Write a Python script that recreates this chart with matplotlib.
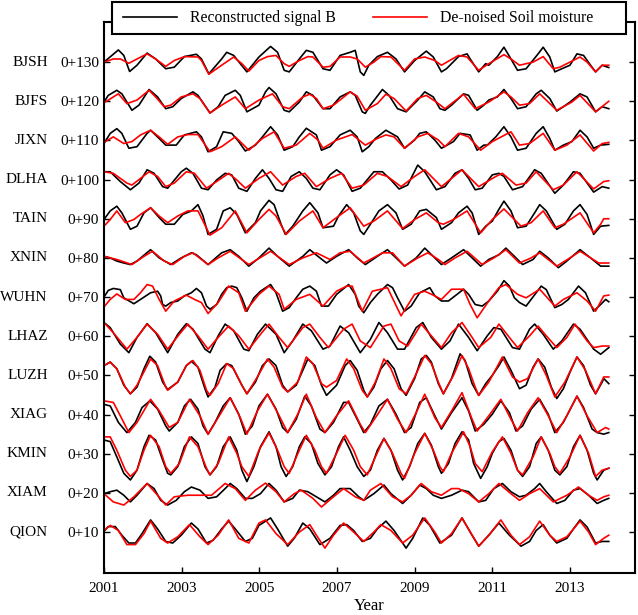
import numpy as np
import matplotlib.pyplot as plt
import matplotlib.transforms as mtransforms
from matplotlib.lines import Line2D
from matplotlib.patches import Rectangle

plt.rcParams['font.family'] = ['Liberation Serif', 'DejaVu Serif']

# stations from top to bottom, each shifted by its offset
stations = ['BJSH', 'BJFS', 'JIXN', 'DLHA', 'TAIN', 'XNIN', 'WUHN',
            'LHAZ', 'LUZH', 'XIAG', 'KMIN', 'XIAM', 'QION']
offsets = [130, 120, 110, 100, 90, 80, 70, 60, 50, 40, 30, 20, 10]
offset_labels = ['0+130', '0+120', '0+110', '0+100', '0+90', '0+80', '0+70',
                 '0+60', '0+50', '0+40', '0+30', '0+20', '0+10']
year_ticks = [2001, 2003, 2005, 2007, 2009, 2011, 2013]
start_year = 2001

# (years since 2001, value)
bjsh_black = [(0.00, 0.0), (0.37, 3.1), (0.51, 1.7), (0.66, -2.4), (0.85, -0.8), (1.11, 2.3), (1.33, 0.8),
              (1.59, -1.7), (1.81, -1.3), (2.07, 1.4), (2.38, 2.0), (2.51, 0.8), (2.70, -3.0), (3.03, 0.8),
              (3.16, 2.5), (3.34, 1.7), (3.68, -2.5), (3.99, 1.3), (4.29, 4.0), (4.47, 2.5), (4.64, -2.1),
              (4.77, -2.5), (5.03, 0.8), (5.21, 3.0), (5.38, 2.5), (5.64, -1.7), (5.82, -2.1), (6.08, 1.7),
              (6.34, 2.5), (6.47, 3.0), (6.60, -2.5), (6.69, -3.4), (6.82, -0.8), (7.04, 1.4), (7.30, 2.5),
              (7.52, 0.8), (7.74, -2.5), (8.00, 0.4), (8.30, 2.8), (8.48, 1.3), (8.69, -2.5), (8.82, -1.7),
              (9.13, 1.4), (9.35, 2.1), (9.43, 0.8), (9.65, -2.5), (9.83, -0.4), (9.91, -0.8), (10.13, 1.4),
              (10.30, 3.8), (10.48, 0.8), (10.65, -2.1), (10.87, -1.7), (11.18, 2.1), (11.31, 3.8),
              (11.48, 1.3), (11.61, -2.5), (11.79, -1.7), (12.00, -0.8), (12.18, 2.1), (12.35, 1.7),
              (12.53, -0.8), (12.66, -2.5), (12.83, -0.8), (13.00, -1.4)]
bjsh_red = [(0.00, 0.0), (0.24, 0.8), (0.42, 0.8), (0.64, -0.3), (0.85, 0.8), (1.11, 2.1), (1.33, 0.8),
            (1.59, -1.1), (1.81, 0.4), (2.07, 1.4), (2.42, 1.3), (2.51, 0.4), (2.70, -3.1), (3.03, -0.8),
            (3.34, 1.3), (3.55, -0.4), (3.73, -2.3), (3.99, 0.4), (4.21, 1.4), (4.43, 1.7), (4.64, -0.4),
            (4.77, -1.1), (5.03, 0.4), (5.25, 1.4), (5.38, 1.3), (5.64, -1.3), (5.82, -1.1), (6.08, 1.3),
            (6.34, 1.3), (6.52, 0.8), (6.73, -1.3), (6.95, 0.0), (7.13, 1.4), (7.39, 1.3), (7.74, -2.1),
            (8.00, 0.8), (8.26, 1.3), (8.52, 0.4), (8.69, -0.8), (9.13, 1.7), (9.35, 1.3), (9.65, -2.1),
            (9.91, -0.4), (10.30, 1.9), (10.48, 0.8), (10.70, -0.8), (11.05, 0.0), (11.31, 1.4),
            (11.57, -1.7), (11.74, -1.3), (11.92, -0.4), (12.26, 1.3), (12.44, 0.0), (12.66, -2.5),
            (12.83, -0.8), (13.00, -0.8)]

bjfs_black = [(0.00, -0.2), (0.11, 1.5), (0.33, 2.8), (0.46, 1.9), (0.72, -2.3), (0.90, -1.0), (1.16, 3.0),
              (1.38, 1.1), (1.59, -1.9), (1.77, -1.4), (1.99, 0.7), (2.29, 2.4), (2.42, 1.5), (2.73, -3.0),
              (2.94, -1.4), (3.12, 1.5), (3.38, 2.8), (3.51, 1.5), (3.68, -2.7), (3.99, -1.0), (4.16, 2.4),
              (4.25, 3.5), (4.43, 1.9), (4.64, -2.3), (4.77, -2.7), (5.03, -0.2), (5.21, 2.4), (5.38, 1.5),
              (5.64, -1.9), (5.82, -1.9), (6.08, 1.1), (6.34, 2.4), (6.47, 1.5), (6.65, -2.7), (6.73, -3.1),
              (6.86, -1.0), (7.17, 3.0), (7.34, 1.5), (7.56, -1.9), (7.78, -2.7), (8.08, 0.3), (8.26, 2.4),
              (8.48, 1.1), (8.65, -1.9), (8.78, -2.3), (8.95, -1.0), (9.26, 1.9), (9.39, 1.5), (9.61, -2.3),
              (9.78, -1.0), (9.91, 0.3), (10.13, 1.1), (10.30, 3.0), (10.48, 0.7), (10.65, -1.9),
              (10.87, -1.4), (11.13, 1.9), (11.26, 2.8), (11.48, 0.7), (11.66, -2.5), (11.83, -1.4),
              (12.00, -0.2), (12.26, 1.9), (12.44, 1.1), (12.66, -2.7), (12.83, -1.4), (13.00, -1.9)]
bjfs_red = [(0.00, -0.4), (0.24, 1.1), (0.37, 1.9), (0.59, -0.6), (0.85, 0.3), (1.16, 2.8), (1.33, 1.1),
            (1.55, -1.4), (1.72, -1.0), (1.99, 1.1), (2.29, 1.9), (2.47, 0.7), (2.73, -3.0), (3.03, -1.0),
            (3.38, 1.1), (3.64, -1.9), (3.99, 0.3), (4.34, 1.9), (4.60, -1.4), (4.77, -1.9), (5.12, 1.1),
            (5.30, 1.8), (5.47, 0.7), (5.64, -1.9), (5.91, -1.0), (6.34, 2.4), (6.52, 1.3), (6.73, -2.3),
            (7.04, -0.6), (7.26, 1.8), (7.47, 0.7), (7.78, -2.5), (8.08, 0.7), (8.30, 1.5), (8.56, -0.2),
            (8.78, -1.9), (9.26, 1.8), (9.56, -1.9), (9.91, -0.2), (10.30, 2.4), (10.48, 1.1), (10.70, -1.0),
            (10.96, -0.6), (11.22, 1.9), (11.66, -2.3), (12.05, -0.2), (12.26, 1.5), (12.66, -2.7),
            (13.00, 0.0)]

jixn_black = [(0.00, -0.8), (0.16, 1.8), (0.33, 3.0), (0.46, 1.8), (0.64, -2.0), (0.85, -1.6), (1.11, 1.8),
              (1.20, 2.6), (1.42, 0.5), (1.59, -1.2), (1.86, -1.2), (2.07, 1.4), (2.38, 2.2), (2.51, 0.9),
              (2.68, -2.9), (2.90, -1.6), (3.07, 2.2), (3.29, 1.8), (3.47, -0.3), (3.64, -2.7), (3.90, -1.2),
              (4.08, 0.9), (4.29, 3.5), (4.47, 1.4), (4.64, -2.5), (4.86, -1.6), (5.03, 0.9), (5.21, 3.1),
              (5.47, 1.4), (5.60, -2.5), (5.82, -1.6), (6.08, 1.4), (6.34, 2.6), (6.52, 0.9), (6.65, -2.9),
              (6.82, -1.6), (6.99, 0.5), (7.26, 2.6), (7.56, 0.9), (7.74, -2.0), (8.00, 0.1), (8.13, 1.8),
              (8.30, 2.2), (8.52, 0.1), (8.69, -2.0), (9.00, -0.3), (9.17, 1.8), (9.43, 1.4), (9.61, -2.5),
              (9.78, -1.2), (9.87, -1.2), (10.09, 0.9), (10.30, 3.5), (10.48, 0.9), (10.65, -2.5),
              (10.87, -2.0), (11.13, 1.8), (11.31, 3.5), (11.48, 0.5), (11.61, -2.5), (11.83, -1.2),
              (12.05, -0.3), (12.26, 2.6), (12.44, 0.9), (12.61, -2.0), (12.79, -1.2), (13.00, -1.0)]
jixn_red = [(0.00, -0.5), (0.24, 0.9), (0.51, -0.8), (0.72, -0.3), (0.94, 1.4), (1.20, 2.6), (1.42, 0.9),
            (1.64, -1.0), (1.90, 0.9), (2.16, 1.5), (2.42, 1.5), (2.73, -2.9), (3.03, -1.6), (3.38, 0.9),
            (3.60, -1.2), (3.73, -2.5), (4.08, 0.5), (4.38, 2.2), (4.64, -2.0), (4.95, -1.2), (5.30, 1.8),
            (5.51, 0.1), (5.64, -2.0), (5.99, 0.1), (6.39, 1.5), (6.73, -1.2), (7.04, 0.5), (7.26, 1.4),
            (7.47, 0.9), (7.74, -2.0), (8.08, 0.9), (8.34, 1.8), (8.61, 0.1), (8.78, -1.6), (9.13, 1.8),
            (9.39, 0.9), (9.70, -2.5), (10.00, -0.3), (10.48, 2.2), (10.70, -1.2), (10.96, -0.8),
            (11.31, 1.8), (11.61, -2.5), (11.92, -1.2), (12.26, 1.4), (12.61, -2.7), (12.83, -0.8),
            (13.00, -0.5)]

dlha_black = [(0.00, 2.0), (0.16, 2.0), (0.42, -0.5), (0.68, -2.6), (0.90, -0.9), (1.11, 2.5), (1.29, 1.6),
              (1.51, -1.8), (1.64, -2.2), (1.99, 2.0), (2.12, 2.9), (2.29, 1.6), (2.51, -2.2), (2.68, -2.6),
              (2.90, -0.1), (3.12, 1.6), (3.29, 1.2), (3.47, -2.2), (3.68, -3.0), (3.90, 0.3), (4.08, 2.5),
              (4.25, 0.3), (4.43, -2.6), (4.60, -3.0), (4.82, 0.8), (5.03, 2.0), (5.21, 0.3), (5.38, -2.2),
              (5.56, -2.6), (5.82, 1.2), (5.99, 2.5), (6.17, 1.2), (6.39, -3.0), (6.60, -2.2), (6.95, 2.0),
              (7.17, 2.0), (7.39, -0.1), (7.60, -2.4), (7.82, -1.4), (8.08, 3.7), (8.26, 2.0), (8.56, -2.6),
              (8.78, -1.8), (9.04, 1.6), (9.22, 2.5), (9.39, 0.3), (9.56, -2.6), (9.74, -2.2), (10.00, 1.2),
              (10.17, 1.6), (10.30, 0.8), (10.52, -2.6), (10.78, -1.8), (11.09, 2.5), (11.26, 1.6),
              (11.61, -3.5), (11.83, -1.4), (12.09, 2.0), (12.26, 1.6), (12.61, -3.2), (12.83, -1.8),
              (13.00, -2.2)]
dlha_red = [(0.00, 2.0), (0.24, 1.6), (0.59, -0.9), (0.72, -1.4), (0.94, 0.3), (1.16, 2.0), (1.38, 0.8),
            (1.59, -1.8), (1.81, -0.9), (2.12, 2.0), (2.33, 1.6), (2.64, -2.2), (2.90, -0.5), (3.21, 1.6),
            (3.42, -0.1), (3.64, -2.2), (3.99, 0.3), (4.29, 2.0), (4.60, -1.4), (4.95, 0.8), (5.17, 1.6),
            (5.47, -1.8), (5.82, 0.3), (6.12, 1.6), (6.39, -2.2), (6.69, -1.4), (7.04, 1.6), (7.30, 0.8),
            (7.65, -1.8), (8.00, 0.8), (8.26, 2.5), (8.52, -0.1), (8.69, -1.8), (8.95, 0.3), (9.22, 2.5),
            (9.48, -0.1), (9.65, -1.8), (10.09, 0.8), (10.26, 1.6), (10.61, -1.4), (10.87, -0.9),
            (11.13, 2.0), (11.57, -2.6), (11.83, -1.4), (12.18, 2.0), (12.61, -2.4), (12.87, -0.5),
            (13.00, -0.3)]

tain_black = [(0.00, -0.2), (0.16, 2.0), (0.33, 3.2), (0.46, 1.5), (0.68, -2.7), (0.85, -1.9), (1.03, 1.5),
              (1.20, 2.8), (1.42, 0.3), (1.59, -1.4), (1.81, -1.4), (2.03, 1.1), (2.25, 2.0), (2.42, 3.6),
              (2.55, 0.7), (2.68, -4.0), (2.90, -2.7), (3.07, 2.0), (3.25, 2.8), (3.42, 1.1), (3.64, -3.6),
              (3.90, -1.0), (4.03, 2.0), (4.25, 4.7), (4.38, 3.6), (4.56, -1.4), (4.67, -4.0), (4.86, -1.9),
              (5.12, 2.0), (5.30, 4.1), (5.51, 1.5), (5.64, -2.3), (5.91, -1.9), (6.04, 0.7), (6.25, 3.6),
              (6.43, 1.5), (6.60, -3.1), (6.69, -4.0), (6.86, -1.4), (7.08, 2.0), (7.30, 3.6), (7.52, 1.5),
              (7.69, -2.7), (7.91, -1.4), (8.13, 2.0), (8.30, 2.4), (8.56, 0.3), (8.69, -2.7), (8.95, -1.0),
              (9.13, 1.5), (9.35, 3.2), (9.48, 1.5), (9.65, -4.0), (9.83, -1.9), (10.00, -0.6), (10.17, 2.4),
              (10.30, 4.5), (10.48, 2.0), (10.65, -2.3), (10.87, -1.9), (11.09, 1.5), (11.22, 3.6),
              (11.39, 2.0), (11.66, -2.7), (11.87, -1.4), (12.09, 2.0), (12.26, 3.6), (12.44, 1.1),
              (12.61, -4.0), (12.79, -1.9), (13.00, -1.7)]
tain_red = [(0.00, -1.9), (0.16, -0.2), (0.33, 2.0), (0.55, -1.0), (0.77, -0.2), (0.94, 1.1), (1.20, 2.8),
            (1.42, 0.7), (1.64, -1.0), (1.90, 0.7), (2.16, 2.0), (2.42, 2.0), (2.73, -4.2), (3.03, -2.3),
            (3.38, 2.0), (3.68, -3.6), (3.99, -0.2), (4.25, 2.4), (4.43, 0.7), (4.69, -4.0), (5.03, -0.6),
            (5.38, 2.0), (5.64, -2.3), (5.99, 0.3), (6.34, 2.8), (6.69, -1.9), (6.95, -0.6), (7.30, 2.0),
            (7.69, -2.5), (8.00, -0.2), (8.30, 1.5), (8.61, -1.0), (8.74, -1.4), (9.00, -0.2), (9.35, 2.0),
            (9.70, -3.6), (10.00, -0.2), (10.30, 2.5), (10.57, -0.2), (10.74, -1.9), (11.00, -1.0),
            (11.31, 2.0), (11.61, -2.3), (11.83, -1.4), (12.26, 1.5), (12.61, -3.6), (12.79, -1.4),
            (12.87, 0.0), (13.00, 0.0)]

xnin_black = [(0.00, 0.4), (0.16, 0.0), (0.33, -0.8), (0.51, -1.3), (0.68, -1.7), (0.85, -0.8), (1.20, 2.1),
              (1.42, 0.0), (1.72, -1.7), (1.99, 0.0), (2.25, 1.3), (2.38, 0.8), (2.68, -1.7), (3.03, 1.3),
              (3.25, 2.1), (3.47, 0.4), (3.73, -2.1), (3.99, 0.0), (4.25, 2.5), (4.47, 0.4), (4.77, -2.1),
              (5.12, 0.4), (5.30, 2.1), (5.51, 0.4), (5.73, -1.3), (5.99, 0.4), (6.30, 2.1), (6.52, 0.0),
              (6.73, -1.7), (7.04, 0.4), (7.30, 2.1), (7.52, 0.0), (7.74, -2.1), (8.04, 0.0), (8.26, 2.5),
              (8.52, 0.0), (8.69, -1.7), (8.95, 0.0), (9.26, 2.1), (9.48, 0.0), (9.70, -2.1), (9.91, -0.4),
              (10.17, 0.8), (10.35, 2.5), (10.57, 0.4), (10.78, -1.7), (11.05, -0.4), (11.22, 1.7),
              (11.44, 0.0), (11.70, -2.5), (11.92, -0.8), (12.26, 2.1), (12.53, 0.0), (12.79, -2.1),
              (13.00, -2.1)]
xnin_red = [(0.00, 0.4), (0.33, -0.4), (0.72, -1.7), (1.03, 0.4), (1.25, 1.7), (1.55, -0.8), (1.77, -1.7),
            (2.07, 0.4), (2.29, 1.3), (2.68, -1.7), (2.94, 0.0), (3.25, 1.7), (3.73, -1.7), (4.08, 0.4),
            (4.29, 1.7), (4.77, -1.7), (5.12, 0.0), (5.47, 1.3), (5.82, -0.4), (6.08, 1.3), (6.34, 1.7),
            (6.69, -1.3), (6.86, -0.4), (7.17, 1.3), (7.43, 1.3), (7.74, -2.1), (8.08, 0.0), (8.34, 1.3),
            (8.61, -0.4), (8.78, -1.7), (9.04, 0.0), (9.35, 1.7), (9.74, -1.7), (10.04, 0.0), (10.35, 2.1),
            (10.70, -1.3), (11.00, 0.0), (11.22, 1.3), (11.66, -2.1), (12.00, 0.0), (12.26, 1.7),
            (12.74, -1.3), (13.00, -1.3)]

wuhn_black = [(0.00, 0.0), (0.11, 1.7), (0.24, 2.2), (0.42, 1.9), (0.51, -0.2), (0.77, -1.7), (0.94, -0.6),
              (1.20, 1.1), (1.38, 1.5), (1.46, 0.3), (1.51, -1.9), (1.59, -2.3), (1.72, -1.4), (1.90, -1.0),
              (2.07, 0.3), (2.25, 1.1), (2.38, 2.2), (2.51, 1.1), (2.64, -2.3), (2.73, -3.1), (2.90, -1.9),
              (3.03, 0.7), (3.16, 2.4), (3.29, 2.8), (3.42, 2.4), (3.55, -0.2), (3.68, -3.6), (3.86, -0.2),
              (4.03, 1.5), (4.29, 3.2), (4.43, 1.1), (4.60, -3.6), (4.77, -2.7), (4.95, -0.2), (5.12, 2.0),
              (5.30, 2.8), (5.47, 1.5), (5.60, -2.3), (5.78, -2.3), (5.99, 0.7), (6.30, 3.2), (6.47, 0.7),
              (6.56, -2.3), (6.69, -4.0), (6.86, -1.4), (7.04, 0.7), (7.30, 3.2), (7.43, 2.4), (7.56, -0.2),
              (7.74, -3.6), (7.91, -2.3), (8.13, 1.1), (8.39, 2.4), (8.52, 0.3), (8.69, -1.0), (8.87, -1.0),
              (9.04, 0.3), (9.26, 2.0), (9.39, 0.7), (9.56, -1.9), (9.74, -2.3), (9.91, -1.0), (10.13, 1.5),
              (10.30, 4.2), (10.44, 2.8), (10.57, -0.2), (10.70, -1.4), (10.87, -2.3), (11.13, 1.1),
              (11.26, 2.8), (11.39, 1.9), (11.61, -2.7), (11.79, -1.9), (11.96, -0.6), (12.22, 2.8),
              (12.40, 1.1), (12.61, -3.6), (12.79, -1.9), (12.92, -0.6), (13.00, -1.2)]
wuhn_red = [(0.00, -2.5), (0.16, -0.6), (0.33, 0.8), (0.55, -0.6), (0.77, -0.6), (0.94, 1.1), (1.11, 3.2),
            (1.25, 2.8), (1.42, -0.6), (1.59, -3.6), (1.81, -1.0), (2.12, 0.5), (2.33, -0.6), (2.51, -1.4),
            (2.68, -4.2), (2.94, -1.4), (3.21, 2.8), (3.47, 1.1), (3.64, -3.6), (3.99, 0.7), (4.25, 2.8),
            (4.51, 0.7), (4.64, -3.1), (4.95, -0.6), (5.30, 0.7), (5.64, -2.3), (5.99, 1.5), (6.25, 2.8),
            (6.39, 2.8), (6.65, -3.6), (6.91, 1.5), (7.30, 2.4), (7.65, -4.8), (8.00, 0.7), (8.26, 1.5),
            (8.52, 0.3), (8.69, -0.6), (8.95, 2.0), (9.26, 2.0), (9.43, -1.9), (9.61, -5.3), (9.91, -1.0),
            (10.17, 2.4), (10.35, 3.2), (10.65, 0.7), (10.87, -0.2), (11.22, 2.0), (11.61, -2.3),
            (11.83, -0.6), (12.18, 1.1), (12.44, -1.0), (12.66, -3.6), (12.87, 0.3), (13.00, 0.5)]

lhaz_black = [(0.00, 3.5), (0.16, 2.2), (0.42, -2.0), (0.64, -4.2), (0.85, -0.3), (1.11, 3.2), (1.33, 0.9),
              (1.64, -4.2), (1.90, 0.5), (2.12, 3.2), (2.29, 1.8), (2.60, -3.3), (2.73, -4.2), (2.94, 0.1),
              (3.12, 3.1), (3.34, 1.4), (3.60, -3.3), (3.73, -3.7), (3.95, 0.5), (4.16, 3.1), (4.43, 0.5),
              (4.64, -4.2), (4.86, -1.2), (5.12, 3.1), (5.34, 1.4), (5.64, -3.3), (5.82, -2.5), (6.08, 2.6),
              (6.30, 0.9), (6.60, -4.2), (6.86, -0.8), (7.08, 3.5), (7.30, 0.9), (7.56, -3.3), (7.74, -3.3),
              (8.04, 2.2), (8.21, 3.5), (8.43, -0.3), (8.69, -3.3), (8.91, -1.2), (9.13, 3.1), (9.39, -0.3),
              (9.61, -3.7), (9.87, 0.1), (10.04, 2.2), (10.22, 1.8), (10.52, -2.9), (10.70, -3.3),
              (10.96, 1.8), (11.09, 3.1), (11.31, 0.5), (11.57, -3.3), (11.79, -1.2), (12.09, 3.1),
              (12.26, 1.8), (12.61, -3.3), (12.79, -4.6), (13.00, -2.9)]
lhaz_red = [(0.00, 3.5), (0.24, 0.9), (0.59, -3.3), (0.85, -0.3), (1.11, 3.1), (1.38, 0.5), (1.64, -3.3),
            (1.94, 0.5), (2.16, 3.1), (2.42, 0.1), (2.68, -3.3), (2.94, -0.3), (3.21, 2.6), (3.47, 0.1),
            (3.73, -3.3), (4.03, 0.5), (4.25, 3.1), (4.51, -0.3), (4.73, -2.9), (5.12, 2.2), (5.30, 3.1),
            (5.56, -0.3), (5.78, -2.9), (6.17, 1.8), (6.39, 3.1), (6.60, -1.2), (6.86, -2.9), (7.21, 2.6),
            (7.39, 3.1), (7.60, -1.2), (7.82, -2.5), (8.17, 3.1), (8.43, 0.1), (8.69, -2.9), (8.95, 0.9),
            (9.22, 3.5), (9.48, -0.3), (9.65, -2.9), (9.96, -0.3), (10.17, 3.1), (10.44, -0.3),
            (10.65, -2.9), (10.96, 0.1), (11.18, 2.6), (11.39, 0.1), (11.66, -2.9), (11.92, -0.3),
            (12.13, 3.1), (12.44, -1.2), (12.61, -2.9), (12.83, -2.5), (13.00, -2.5)]

luzh_black = [(0.00, 2.5), (0.16, 3.4), (0.33, 1.7), (0.51, -2.5), (0.68, -4.7), (0.85, -3.0), (1.03, 1.7),
              (1.18, 4.9), (1.33, 3.4), (1.51, -1.7), (1.64, -3.6), (1.90, -1.7), (2.12, 2.5), (2.25, 3.6),
              (2.42, 2.1), (2.60, -3.4), (2.68, -5.5), (2.86, -3.0), (2.99, 1.3), (3.16, 3.0), (3.29, 2.5),
              (3.55, -2.5), (3.68, -4.7), (3.90, -1.7), (4.08, 2.5), (4.25, 4.2), (4.43, 2.5), (4.60, -2.5),
              (4.73, -4.2), (4.95, -2.5), (5.12, 1.3), (5.25, 4.2), (5.43, 2.5), (5.60, -2.5), (5.73, -5.1),
              (5.99, -2.5), (6.21, 2.5), (6.34, 3.8), (6.52, 1.3), (6.69, -3.8), (6.78, -5.5), (6.95, -3.0),
              (7.13, 1.7), (7.30, 3.8), (7.47, 1.7), (7.65, -3.4), (7.78, -5.1), (8.00, -0.8), (8.17, 4.2),
              (8.30, 5.1), (8.43, 3.4), (8.61, -2.1), (8.74, -4.7), (8.95, -0.8), (9.17, 5.5), (9.30, 3.8),
              (9.48, -2.1), (9.65, -5.1), (9.83, -2.1), (10.00, 0.0), (10.17, 2.5), (10.30, 4.7),
              (10.48, 1.3), (10.70, -3.4), (10.87, -2.5), (11.05, 2.1), (11.18, 4.2), (11.35, 2.1),
              (11.52, -3.0), (11.66, -5.9), (11.83, -3.4), (12.00, 0.8), (12.18, 4.7), (12.35, 2.5),
              (12.53, -2.5), (12.66, -4.7), (12.83, -1.7), (12.87, -0.8), (13.00, -2.1)]
luzh_red = [(0.00, 2.5), (0.16, 3.4), (0.33, 1.7), (0.55, -3.0), (0.68, -4.7), (0.85, -2.5), (1.07, 1.7),
            (1.20, 4.2), (1.38, 2.5), (1.59, -3.0), (1.64, -3.8), (1.90, -1.7), (2.12, 2.5), (2.29, 3.8),
            (2.47, 1.3), (2.64, -3.8), (2.73, -5.1), (2.94, -2.1), (3.16, 3.0), (3.34, 1.7), (3.55, -2.5),
            (3.68, -4.7), (3.95, -0.4), (4.21, 4.2), (4.38, 2.1), (4.60, -3.0), (4.73, -4.2), (4.99, -1.7),
            (5.21, 4.7), (5.38, 3.0), (5.60, -2.1), (5.73, -3.0), (5.99, -1.3), (6.25, 4.2), (6.43, 1.7),
            (6.65, -3.8), (6.78, -5.5), (6.99, -1.7), (7.21, 4.2), (7.39, 1.7), (7.60, -3.4), (7.78, -4.7),
            (8.04, 0.4), (8.26, 5.1), (8.43, 3.0), (8.61, -1.7), (8.74, -4.7), (9.00, 0.0), (9.22, 5.1),
            (9.39, 1.7), (9.56, -3.0), (9.65, -5.1), (9.91, -1.7), (10.26, 4.7), (10.52, -0.4),
            (10.70, -1.7), (10.91, -0.8), (11.18, 4.2), (11.39, 0.0), (11.61, -5.5), (11.87, -1.7),
            (12.18, 4.7), (12.40, 1.3), (12.66, -4.7), (12.87, -0.4), (13.00, -0.4)]

xiag_black = [(0.00, 2.6), (0.16, 2.2), (0.37, -2.0), (0.59, -4.6), (0.81, -2.0), (0.98, 1.8), (1.18, 3.5),
              (1.38, 1.4), (1.59, -2.9), (1.68, -4.2), (1.90, -2.0), (2.07, 2.2), (2.23, 3.9), (2.42, 1.4),
              (2.55, -2.9), (2.68, -5.0), (2.86, -2.0), (3.07, 2.2), (3.25, 4.3), (3.47, 0.1), (3.64, -5.0),
              (3.82, -2.9), (3.99, 2.2), (4.21, 5.2), (4.43, 1.4), (4.60, -3.3), (4.73, -4.6), (4.95, -1.2),
              (5.17, 4.7), (5.34, 2.2), (5.56, -3.7), (5.69, -4.6), (5.91, -2.0), (6.17, 3.1), (6.30, 3.1),
              (6.52, -1.2), (6.69, -4.6), (6.86, -2.5), (7.08, 2.2), (7.30, 3.9), (7.52, 0.1), (7.74, -4.6),
              (7.91, -3.3), (8.13, 3.1), (8.30, 4.3), (8.52, -0.3), (8.69, -3.7), (8.95, 0.5), (9.22, 4.3),
              (9.39, 0.9), (9.56, -4.2), (9.78, -2.5), (10.00, 0.1), (10.22, 3.5), (10.44, 0.5),
              (10.61, -4.2), (10.78, -2.9), (11.00, 1.4), (11.22, 3.9), (11.44, 0.1), (11.61, -4.6),
              (11.83, -2.0), (12.05, 2.2), (12.18, 4.7), (12.35, 1.8), (12.57, -3.7), (12.70, -4.6),
              (12.87, -5.0), (13.00, -4.6)]
xiag_red = [(0.00, 3.5), (0.24, 3.1), (0.42, -0.3), (0.64, -4.6), (0.85, -2.0), (1.20, 3.9), (1.42, 1.0),
            (1.68, -3.3), (1.90, -2.0), (2.20, 3.9), (2.47, -0.3), (2.68, -5.0), (2.94, -0.8), (3.25, 4.3),
            (3.51, -0.8), (3.68, -5.0), (3.95, 0.9), (4.21, 5.2), (4.47, 0.5), (4.73, -4.6), (4.99, 0.1),
            (5.21, 5.2), (5.47, -0.8), (5.69, -4.6), (5.99, -0.3), (6.30, 3.5), (6.60, -2.5), (6.73, -4.6),
            (6.99, -0.8), (7.30, 3.9), (7.56, -1.2), (7.78, -4.6), (8.04, 0.5), (8.26, 5.2), (8.52, -0.8),
            (8.69, -3.3), (8.95, 0.9), (9.22, 5.6), (9.48, -1.2), (9.61, -4.2), (9.91, -0.3), (10.22, 3.9),
            (10.48, -1.2), (10.65, -4.2), (10.91, 0.5), (11.18, 4.3), (11.44, -0.3), (11.66, -4.6),
            (11.92, -0.3), (12.18, 4.7), (12.44, -0.3), (12.70, -4.6), (12.92, -3.3), (13.00, -3.7)]

kmin_black = [(0.00, 3.5), (0.16, 3.1), (0.33, -0.8), (0.51, -5.0), (0.68, -6.7), (0.85, -4.2), (1.03, 1.8),
              (1.16, 4.7), (1.33, 3.5), (1.51, -1.6), (1.64, -5.0), (1.72, -5.4), (1.90, -3.3), (2.07, 1.8),
              (2.25, 4.3), (2.42, 2.6), (2.60, -3.3), (2.73, -5.4), (2.90, -3.3), (3.07, 1.8), (3.25, 4.3),
              (3.42, 0.9), (3.55, -4.2), (3.68, -7.1), (3.86, -3.3), (4.03, 1.8), (4.25, 5.6), (4.43, 1.8),
              (4.56, -3.3), (4.69, -5.8), (4.86, -3.3), (5.03, 1.8), (5.17, 4.3), (5.34, 2.6), (5.51, -2.5),
              (5.69, -5.4), (5.86, -3.3), (6.04, 1.8), (6.17, 4.3), (6.34, 0.9), (6.52, -3.3), (6.69, -5.8),
              (6.86, -4.2), (7.04, 0.9), (7.21, 3.9), (7.39, 0.9), (7.56, -4.2), (7.69, -6.7), (7.87, -3.3),
              (8.08, 2.6), (8.26, 5.2), (8.43, 2.2), (8.61, -3.3), (8.69, -5.0), (8.87, -2.5), (9.04, 2.6),
              (9.22, 5.6), (9.39, 3.5), (9.52, -2.5), (9.70, -6.3), (9.87, -3.3), (10.00, 0.1), (10.17, 3.1),
              (10.30, 3.9), (10.48, 0.9), (10.65, -4.2), (10.78, -5.8), (10.96, -3.3), (11.13, 2.6),
              (11.26, 4.3), (11.44, 0.9), (11.61, -4.2), (11.74, -5.4), (11.92, -3.3), (12.09, 1.8),
              (12.26, 4.7), (12.44, 0.9), (12.61, -5.0), (12.70, -6.7), (12.87, -4.2), (13.00, -3.7)]
kmin_red = [(0.00, 4.3), (0.16, 4.3), (0.33, 0.9), (0.55, -4.2), (0.68, -5.8), (0.85, -4.2), (1.03, 0.9),
            (1.20, 4.7), (1.42, 1.8), (1.59, -3.3), (1.72, -5.0), (1.94, -2.5), (2.20, 4.3), (2.42, 1.8),
            (2.64, -3.7), (2.73, -5.4), (2.94, -2.5), (3.21, 4.3), (3.42, 0.1), (3.55, -3.3), (3.73, -5.8),
            (3.99, 0.9), (4.25, 5.3), (4.47, 0.9), (4.64, -3.3), (4.77, -5.0), (5.03, 0.9), (5.21, 4.7),
            (5.43, 0.9), (5.60, -3.3), (5.73, -5.0), (5.99, 0.1), (6.21, 4.7), (6.43, 0.9), (6.60, -3.3),
            (6.78, -5.4), (6.99, -0.8), (7.21, 3.9), (7.43, 0.1), (7.65, -5.0), (7.74, -6.3), (8.00, 0.1),
            (8.26, 5.2), (8.48, 0.9), (8.65, -3.3), (8.74, -4.6), (8.95, 0.1), (9.26, 5.6), (9.43, 1.8),
            (9.56, -2.5), (9.74, -4.6), (10.00, 0.5), (10.26, 4.3), (10.48, 0.1), (10.65, -4.2),
            (10.78, -5.4), (11.05, -0.8), (11.26, 4.3), (11.48, 0.1), (11.61, -3.3), (11.74, -5.0),
            (12.00, -0.8), (12.26, 4.7), (12.48, 0.1), (12.66, -5.8), (12.83, -4.2), (13.00, -3.7)]

xiam_black = [(0.00, -0.2), (0.16, 0.3), (0.33, 0.7), (0.51, -0.6), (0.68, -2.3), (0.85, -0.6), (1.11, 2.4),
              (1.29, 1.1), (1.46, -1.9), (1.64, -3.1), (1.86, -1.9), (2.07, 0.3), (2.25, 1.5), (2.47, 0.7),
              (2.68, -1.4), (2.90, -1.0), (3.12, 1.1), (3.25, 2.4), (3.42, 1.1), (3.64, -1.4), (3.82, -1.4),
              (4.03, -0.2), (4.25, 2.4), (4.43, 0.7), (4.64, -2.3), (4.86, -1.4), (5.03, 0.7), (5.25, 0.3),
              (5.47, -1.0), (5.69, -2.3), (5.91, -0.6), (6.08, 1.1), (6.34, 1.1), (6.56, -1.0), (6.69, -1.9),
              (6.95, -0.2), (7.21, 2.0), (7.39, -0.2), (7.69, -2.7), (7.91, -0.6), (8.13, 2.0), (8.30, 1.1),
              (8.48, -0.6), (8.69, -1.4), (8.95, -0.6), (9.22, 0.7), (9.39, 0.3), (9.65, -2.3), (9.83, -1.9),
              (10.04, 1.1), (10.26, 2.4), (10.48, 0.3), (10.70, -1.0), (10.87, -0.6), (11.09, 1.1),
              (11.22, 2.4), (11.39, 0.3), (11.66, -2.7), (11.87, -1.9), (12.09, 0.7), (12.26, 1.1),
              (12.48, -0.6), (12.70, -2.7), (12.87, -1.9), (13.00, -1.4)]
xiam_red = [(0.00, -0.2), (0.24, -2.3), (0.51, -3.1), (0.77, -1.0), (1.11, 2.4), (1.38, -0.6), (1.59, -3.1),
            (1.81, -1.0), (2.16, -0.6), (2.51, -0.6), (2.77, -0.6), (3.12, 2.4), (3.38, 1.1), (3.64, -1.9),
            (3.90, 0.7), (4.16, 2.5), (4.43, 0.3), (4.64, -2.3), (4.90, -0.2), (5.08, 0.7), (5.38, -1.4),
            (5.60, -3.6), (5.91, -1.0), (6.17, 1.1), (6.47, -1.0), (6.69, -1.9), (6.86, 0.7), (7.13, 2.4),
            (7.43, -1.0), (7.69, -2.3), (7.91, -0.6), (8.17, 2.4), (8.43, 0.3), (8.69, -0.6), (8.95, 1.1),
            (9.13, 1.1), (9.39, -0.2), (9.65, -2.3), (9.91, -0.2), (10.17, 2.4), (10.48, -0.2),
            (10.70, -1.9), (10.96, -0.2), (11.22, 1.1), (11.57, -2.3), (11.92, -0.6), (12.22, 1.5),
            (12.48, -0.6), (12.70, -1.9), (12.87, -1.0), (13.00, -0.6)]

qion_black = [(0.00, 0.2), (0.11, 1.4), (0.29, 1.4), (0.46, -0.8), (0.64, -2.8), (0.81, -2.8), (0.98, -0.4),
              (1.20, 3.1), (1.38, 0.8), (1.59, -2.4), (1.77, -2.8), (1.99, -0.8), (2.25, 2.3), (2.42, 0.8),
              (2.64, -2.8), (2.81, -2.1), (3.03, 0.8), (3.21, 2.8), (3.38, 0.8), (3.64, -2.4), (3.82, -1.6),
              (3.99, 1.7), (4.29, 3.6), (4.47, 0.8), (4.73, -3.6), (4.90, -1.6), (5.12, 2.3), (5.30, 0.8),
              (5.56, -3.2), (5.82, -1.6), (6.08, 1.7), (6.25, 1.9), (6.43, 0.4), (6.65, -2.4), (6.86, -1.6),
              (7.04, 0.8), (7.26, 2.8), (7.47, 0.4), (7.78, -4.1), (7.95, -1.6), (8.21, 3.6), (8.39, 1.7),
              (8.65, -2.8), (8.95, -0.8), (9.22, 3.6), (9.43, 0.0), (9.65, -3.6), (9.91, -0.8), (10.17, 2.3),
              (10.44, -0.8), (10.74, -3.6), (10.96, -2.4), (11.13, 0.4), (11.31, 1.9), (11.48, -0.8),
              (11.66, -2.8), (11.92, -1.6), (12.09, 0.8), (12.26, 3.1), (12.44, 1.3), (12.66, -2.8),
              (12.83, -2.4), (13.00, -2.4)]
qion_red = [(0.00, 0.4), (0.16, 1.7), (0.37, 0.4), (0.59, -3.2), (0.81, -3.2), (1.03, -0.4), (1.20, 2.8),
            (1.46, -1.6), (1.64, -2.8), (1.90, -1.2), (2.20, 1.9), (2.47, -1.2), (2.68, -3.2), (2.94, -0.8),
            (3.21, 3.1), (3.47, -1.6), (3.73, -2.8), (3.99, 2.3), (4.16, 3.1), (4.43, -0.4), (4.73, -3.2),
            (5.03, 0.0), (5.30, 1.9), (5.47, -0.8), (5.69, -4.1), (5.91, -0.8), (6.17, 2.3), (6.43, 0.0),
            (6.69, -2.4), (6.95, 0.0), (7.13, 1.9), (7.39, 0.4), (7.69, -2.8), (7.95, -0.8), (8.26, 3.6),
            (8.52, 0.0), (8.69, -2.8), (8.95, -0.4), (9.22, 3.6), (9.48, -0.8), (9.65, -3.6), (9.91, -0.8),
            (10.22, 3.1), (10.48, -0.8), (10.70, -3.2), (10.96, -1.2), (11.22, 2.8), (11.48, -0.8),
            (11.66, -2.4), (11.92, -1.2), (12.26, 2.8), (12.48, 0.0), (12.66, -3.2), (12.87, -1.6),
            (13.00, -0.8)]

black_series = [bjsh_black, bjfs_black, jixn_black, dlha_black, tain_black, xnin_black, wuhn_black,
                lhaz_black, luzh_black, xiag_black, kmin_black, xiam_black, qion_black]
red_series = [bjsh_red, bjfs_red, jixn_red, dlha_red, tain_red, xnin_red, wuhn_red,
              lhaz_red, luzh_red, xiag_red, kmin_red, xiam_red, qion_red]

fig = plt.figure(figsize=(6.38, 6.15), dpi=100)
ax = fig.add_axes([0.163, 0.068, 0.832, 0.896])

for off, blk, red in zip(offsets, black_series, red_series):
    b = np.array(blk)
    r = np.array(red)
    ax.plot(start_year + b[:, 0], off + b[:, 1], color='black', lw=1.2)
    ax.plot(start_year + r[:, 0], off + r[:, 1], color='#ff0000', lw=1.2)

ax.set_xlim(2001, 2014.67)
ax.set_ylim(-0.5, 140.2)
ax.set_xticks(year_ticks)
ax.set_xticklabels([str(y) for y in year_ticks], fontsize=11)
ax.set_yticks(offsets)
ax.set_yticklabels(offset_labels, fontsize=11)
ax.tick_params(direction='in', length=4, width=1.0, right=True, top=False)
ax.tick_params(axis='x', pad=6)
ax.tick_params(axis='y', pad=3.5)
ax.set_xlabel('Year', fontsize=12, labelpad=2.5)

for sp in ax.spines.values():
    sp.set_linewidth(1.5)

# station names to the left of the offset labels
trans = mtransforms.blended_transform_factory(ax.transAxes, ax.transData)
for name, off in zip(stations, offsets):
    ax.text(-0.106, off, name, transform=trans, ha='right', va='center', fontsize=11)

# legend box sits over the top edge of the axes
box = Rectangle((0.1755, 0.9447), 0.8056, 0.052, transform=fig.transFigure,
                facecolor='white', edgecolor='black', linewidth=1.5, zorder=3)
fig.add_artist(box)

handles = [Line2D([], [], color='black', lw=1.2), Line2D([], [], color='#ff0000', lw=1.2)]
leg = fig.legend(handles, ['Reconstructed signal B', 'De-noised Soil moisture'],
                 loc='center left', bbox_to_anchor=(0.1928, 0.9707), ncol=2, fontsize=11.3,
                 handlelength=3.44, handletextpad=0.83, columnspacing=2.36,
                 frameon=False, borderpad=0, borderaxespad=0)
leg.set_zorder(5)

fig.savefig('out.png', dpi=100)
